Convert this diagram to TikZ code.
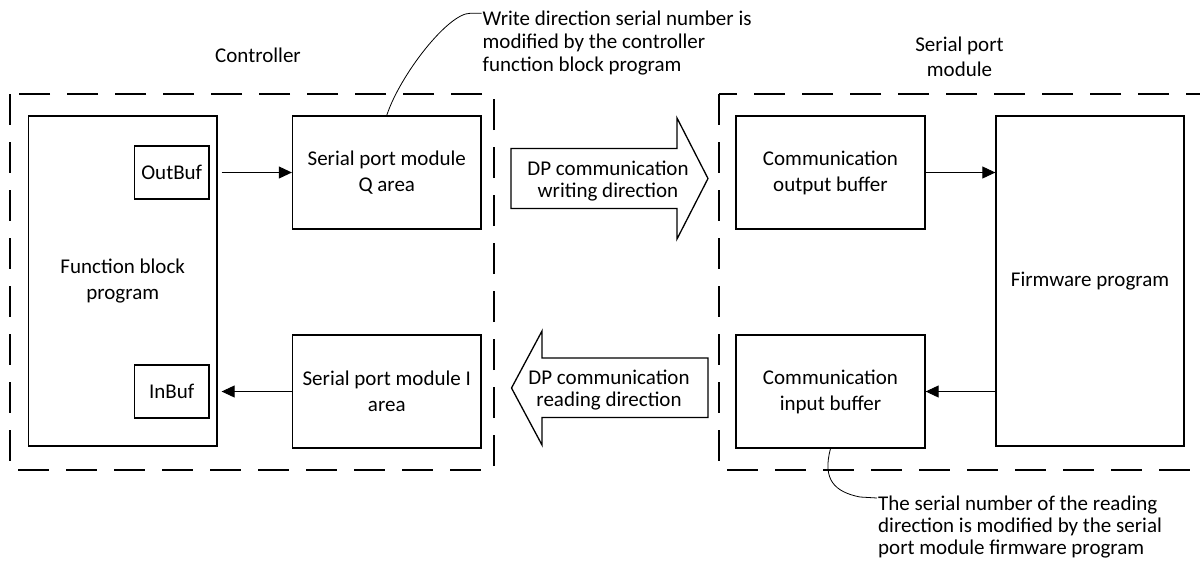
\documentclass[tikz,border=0pt]{standalone}
\usepackage{fontspec}
\setmainfont{Carlito}
\usetikzlibrary{arrows.meta}
\begin{document}
\begin{tikzpicture}[x=1pt,y=-1pt,
  txt/.style={font=\fontsize{21}{26}\selectfont, align=center, inner sep=0pt},
  box/.style={draw, line width=1.3pt, inner sep=0pt, align=center,
              font=\fontsize{21}{26}\selectfont},
  dashbox/.style={draw, line width=1.3pt, dash pattern=on 31pt off 17pt},
  conn/.style={line width=0.9pt, -{Triangle[length=13pt,width=12pt]}},
  leader/.style={line width=0.8pt},
  bigarrow/.style={draw, line width=1.3pt, fill=white},
  note/.style={font=\fontsize{21}{23.3}\selectfont, align=left, inner sep=0pt}]
\clip (0,0) rectangle (1200,566);
\fill[white] (0,0) rectangle (1200,566);

% containers
\draw[dashbox] (10,94) rectangle (494,470);
\draw[dashbox] (719,94) rectangle (1240,470);
\node[txt, anchor=base] (ctrl) at (258,62.3) {Controller};
\node[txt, font=\fontsize{21}{25}\selectfont] (spm) at (959.5,57) {Serial port\\module};

% controller side
\node[box, minimum width=188.5pt, minimum height=330pt] (fb) at (122.75,281) {Function block\\program};
\node[box, minimum width=74.5pt, minimum height=53pt] (outbuf) at (171.75,172.5) {OutBuf};
\node[box, minimum width=74.5pt, minimum height=53pt] (inbuf) at (171.75,391.5) {InBuf};
\node[box, minimum width=188.5pt, minimum height=113pt] (qarea) at (386.75,172.5) {Serial port module\\Q area};
\node[box, minimum width=188.5pt, minimum height=113pt] (iarea) at (386.75,391.5) {Serial port module I\\area};

% serial port module side
\node[box, minimum width=189pt, minimum height=113pt] (cout) at (830.5,172.5) {Communication\\output buffer};
\node[box, minimum width=189pt, minimum height=113pt] (cin) at (830.5,391.5) {Communication\\input buffer};
\node[box, minimum width=188pt, minimum height=330pt] (fw) at (1090,281) {Firmware program};

% big arrows
\draw[bigarrow] (511,148.5) -- (677,148.5) -- (677,118) -- (708,178.5) -- (677,239) -- (677,208.5) -- (511,208.5) -- cycle;
\node[txt, font=\fontsize{21}{22}\selectfont] (wdir) at (608,181) {DP communication\\writing direction};
\draw[bigarrow] (708,358) -- (542,358) -- (542,331) -- (511.5,388) -- (542,445) -- (542,417.5) -- (708,417.5) -- cycle;
\node[txt, font=\fontsize{21}{22}\selectfont] (rdir) at (609,390) {DP communication\\reading direction};

% connectors
\draw[conn] ([xshift=12pt]outbuf.east) -- (qarea.west);
\draw[conn] (iarea.west) -- ([xshift=12pt]inbuf.east);
\draw[conn] (cout.east) -- (fw.west |- cout.east);
\draw[conn] (fw.west |- cin.east) -- (cin.east);

% callouts
\node[note, anchor=west] (wnote) at (482.5,43) {Write direction serial number is\\modified by the controller\\function block program};
\coordinate (wl) at (481.5,13.3);
\draw[leader] (wl) -- (470,13.3) .. controls (448,13.3) and (400,75) .. (qarea.north);

\node[note, font=\fontsize{21}{22}\selectfont, anchor=west] (rnote) at (878,527) {The serial number of the reading\\direction is modified by the serial\\port module firmware program};
\coordinate (rl) at (877,498);
\draw[leader] (cin.south) .. controls (822,480) and (835,492) .. (860,497) -- (rl);
\end{tikzpicture}
\end{document}
